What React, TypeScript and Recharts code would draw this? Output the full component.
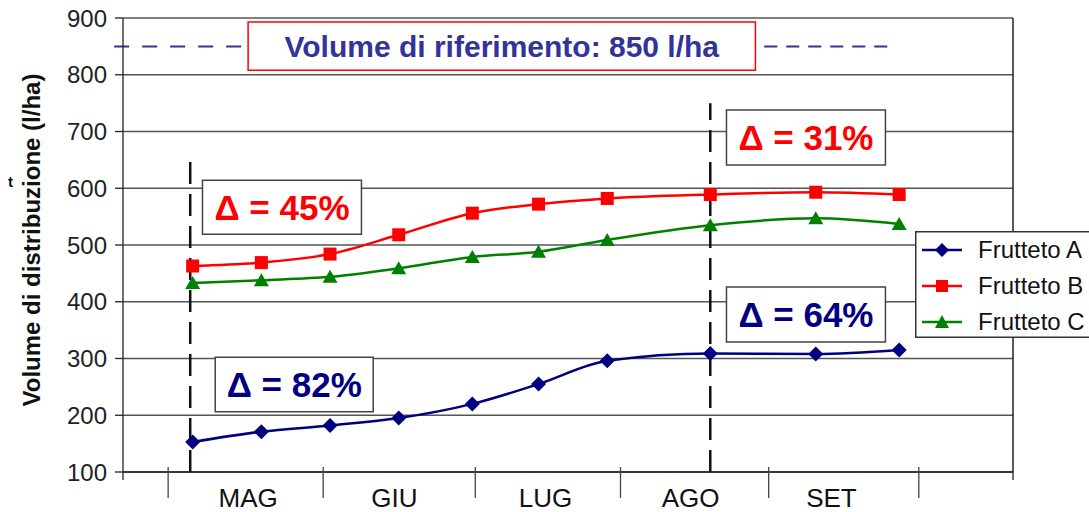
import React from "react";
import {
  LineChart,
  Line,
  XAxis,
  YAxis,
  CartesianGrid,
  ReferenceLine,
  ReferenceArea,
  Legend,
} from "recharts";

// days counted from 1 May
const days = [5, 19, 33, 47, 62, 75.5, 89.5, 110.5, 132, 149];
const fruttetoA = [153, 171, 182, 195, 220, 255, 296, 309, 308, 315];
const fruttetoB = [463, 469, 484, 518, 556, 572, 582, 589, 593, 589];
const fruttetoC = [433, 438, 444, 459, 479, 488, 509, 535, 547, 537];

const months = ["MAG", "GIU", "LUG", "AGO", "SET"];
const monthSeparators = [0, 31.6, 62.6, 92.2, 122.4, 153];
const monthLabelPos = [16.3, 46.1, 76.9, 106.5, 135.2];
const yTicks = [100, 200, 300, 400, 500, 600, 700, 800, 900];
const referenceVolume = 850;
const referenceText = "Volume di riferimento: 850 l/ha";
const deltaLabels = ["Δ = 45%", "Δ = 82%", "Δ = 31%", "Δ = 64%"];

const X_MIN = -9.2;
const X_MAX = 172.2;

const FONT = "'Liberation Sans', Arial, sans-serif";
const NAVY = "#000080";
const RED = "#ff0000";
const GREEN = "#008000";
const REF_BLUE = "#333399";

const data = days.map((day, i) => ({
  day,
  A: fruttetoA[i],
  B: fruttetoB[i],
  C: fruttetoC[i],
}));

const xTicks = [X_MIN, ...monthSeparators, ...monthLabelPos, X_MAX].sort((a, b) => a - b);

function MonthTick(props: any) {
  const { x, y, payload } = props;
  const v = payload.value;
  if (v === X_MIN || v === X_MAX) {
    return <line x1={x} y1={y} x2={x} y2={y + 8} stroke="#222" strokeWidth={1.3} />;
  }
  if (monthSeparators.includes(v)) {
    return <line x1={x} y1={y - 5} x2={x} y2={y + 26} stroke="#444" strokeWidth={1.3} />;
  }
  const idx = monthLabelPos.indexOf(v);
  return (
    <text x={x} y={y + 35} textAnchor="middle" fontSize={26} fontFamily={FONT} fill="#111">
      {months[idx]}
    </text>
  );
}

const diamondDot = (color: string) => (props: any) => {
  const { cx, cy, index } = props;
  const r = 7.5;
  return (
    <polygon
      key={index}
      points={`${cx},${cy - r} ${cx + r},${cy} ${cx},${cy + r} ${cx - r},${cy}`}
      fill={color}
    />
  );
};

const squareDot = (color: string) => (props: any) => {
  const { cx, cy, index } = props;
  return <rect key={index} x={cx - 6.5} y={cy - 6.5} width={13} height={13} fill={color} />;
};

const triangleDot = (color: string) => (props: any) => {
  const { cx, cy, index } = props;
  return (
    <polygon
      key={index}
      points={`${cx},${cy - 7} ${cx + 7.5},${cy + 6} ${cx - 7.5},${cy + 6}`}
      fill={color}
    />
  );
};

const boxLabel = (text: string, color: string, size: number) => (props: any) => {
  const { x, y, width, height } = props.viewBox;
  return (
    <text
      x={x + width / 2}
      y={y + height / 2}
      dy="0.36em"
      textAnchor="middle"
      fontSize={size}
      fontWeight={700}
      fontFamily={FONT}
      fill={color}
    >
      {text}
    </text>
  );
};

function YLabel() {
  return (
    <g>
      <text
        x={40}
        y={240}
        transform="rotate(-90, 40, 240)"
        textAnchor="middle"
        fontSize={24}
        fontWeight={700}
        fontFamily={FONT}
        fill="#111"
      >
        Volume di distribuzione (l/ha)
      </text>
      <text x={8} y={187} fontSize={15} fontWeight={700} fontFamily={FONT} fill="#111">
        t
      </text>
    </g>
  );
}

function LegendBox(props: any) {
  const { payload } = props;
  const markers = [
    (cy: number, c: string) => (
      <polygon points={`27,${cy - 7} 34,${cy} 27,${cy + 7} 20,${cy}`} fill={c} />
    ),
    (cy: number, c: string) => <rect x={21} y={cy - 6} width={12} height={12} fill={c} />,
    (cy: number, c: string) => (
      <polygon points={`27,${cy - 7} 34,${cy + 6} 20,${cy + 6}`} fill={c} />
    ),
  ];
  return (
    <svg width={176} height={107} style={{ display: "block" }}>
      <rect x={0.75} y={0.75} width={180} height={105.5} fill="#fff" stroke="#333" strokeWidth={1.5} />
      {(payload || []).map((p: any, i: number) => {
        const cy = 19 + i * 36;
        return (
          <g key={p.value}>
            <line x1={7} y1={cy} x2={47} y2={cy} stroke={p.color} strokeWidth={2.5} />
            {markers[i](cy, p.color)}
            <text x={63} y={cy + 8} fontSize={24} fontFamily={FONT} fill="#111">
              {p.value}
            </text>
          </g>
        );
      })}
    </svg>
  );
}

export default function App() {
  return (
    <div
      style={{
        position: "absolute",
        left: 0,
        top: 0,
        width: 1089,
        height: 512,
        overflow: "hidden",
        background: "#fff",
      }}
    >
      <LineChart
        width={1089}
        height={512}
        data={data}
        margin={{ top: 18, right: 76, bottom: 0, left: 43 }}
      >
        <CartesianGrid vertical={false} stroke="#555" strokeWidth={1.3} />
        <XAxis
          type="number"
          dataKey="day"
          domain={[X_MIN, X_MAX]}
          ticks={xTicks}
          interval={0}
          tick={<MonthTick />}
          tickLine={false}
          tickSize={0}
          tickMargin={0}
          height={40}
          axisLine={{ stroke: "#222", strokeWidth: 1.3 }}
          allowDataOverflow
        />
        <YAxis
          domain={[100, 900]}
          ticks={yTicks}
          interval={0}
          width={80}
          tickSize={8}
          tickMargin={8}
          tick={{ fontSize: 24, fill: "#222", fontFamily: FONT }}
          tickLine={{ stroke: "#222", strokeWidth: 1.3 }}
          axisLine={{ stroke: "#222", strokeWidth: 1.3 }}
          label={<YLabel />}
        />
        <ReferenceLine x={X_MAX} stroke="#222" strokeWidth={1.5} />
        <ReferenceLine
          segment={[
            { x: -11, y: referenceVolume },
            { x: 16.3, y: referenceVolume },
          ]}
          stroke={REF_BLUE}
          strokeWidth={2}
          strokeDasharray="15 13"
          ifOverflow="visible"
        />
        <ReferenceLine
          segment={[
            { x: 121.5, y: referenceVolume },
            { x: 147, y: referenceVolume },
          ]}
          stroke={REF_BLUE}
          strokeWidth={2}
          strokeDasharray="13 9"
        />
        <ReferenceArea
          x1={16.3}
          x2={119.7}
          y1={808}
          y2={893}
          fill="#fff"
          fillOpacity={1}
          stroke={RED}
          strokeWidth={1.5}
          label={boxLabel(referenceText, REF_BLUE, 30)}
        />
        <ReferenceLine
          segment={[
            { x: 4.5, y: 100 },
            { x: 4.5, y: 657 },
          ]}
          stroke="#111"
          strokeWidth={2.5}
          strokeDasharray="22 10"
        />
        <ReferenceLine
          segment={[
            { x: 110.5, y: 100 },
            { x: 110.5, y: 750 },
          ]}
          stroke="#111"
          strokeWidth={2.5}
          strokeDasharray="22 10"
        />
        <ReferenceArea
          x1={7}
          x2={39.4}
          y1={519}
          y2={614}
          fill="#fff"
          fillOpacity={1}
          stroke="#444"
          strokeWidth={1.5}
          label={boxLabel(deltaLabels[0], RED, 35)}
        />
        <ReferenceArea
          x1={9.6}
          x2={41.8}
          y1={206}
          y2={302}
          fill="#fff"
          fillOpacity={1}
          stroke="#444"
          strokeWidth={1.5}
          label={boxLabel(deltaLabels[1], NAVY, 35)}
        />
        <ReferenceArea
          x1={113.8}
          x2={146.2}
          y1={641}
          y2={738}
          fill="#fff"
          fillOpacity={1}
          stroke="#444"
          strokeWidth={1.5}
          label={boxLabel(deltaLabels[2], RED, 35)}
        />
        <ReferenceArea
          x1={113.8}
          x2={146.2}
          y1={329}
          y2={426}
          fill="#fff"
          fillOpacity={1}
          stroke="#444"
          strokeWidth={1.5}
          label={boxLabel(deltaLabels[3], NAVY, 35)}
        />
        <Line
          type="monotone"
          dataKey="A"
          name="Frutteto A"
          stroke={NAVY}
          strokeWidth={2.5}
          dot={diamondDot(NAVY)}
          activeDot={false}
          isAnimationActive={false}
        />
        <Line
          type="monotone"
          dataKey="B"
          name="Frutteto B"
          stroke={RED}
          strokeWidth={2.5}
          dot={squareDot(RED)}
          activeDot={false}
          isAnimationActive={false}
        />
        <Line
          type="monotone"
          dataKey="C"
          name="Frutteto C"
          stroke={GREEN}
          strokeWidth={2.5}
          dot={triangleDot(GREEN)}
          activeDot={false}
          isAnimationActive={false}
        />
        <Legend
          layout="vertical"
          align="center"
          verticalAlign="middle"
          content={<LegendBox />}
          wrapperStyle={{ left: 915, top: 231, width: 176, height: 107 }}
        />
      </LineChart>
    </div>
  );
}
